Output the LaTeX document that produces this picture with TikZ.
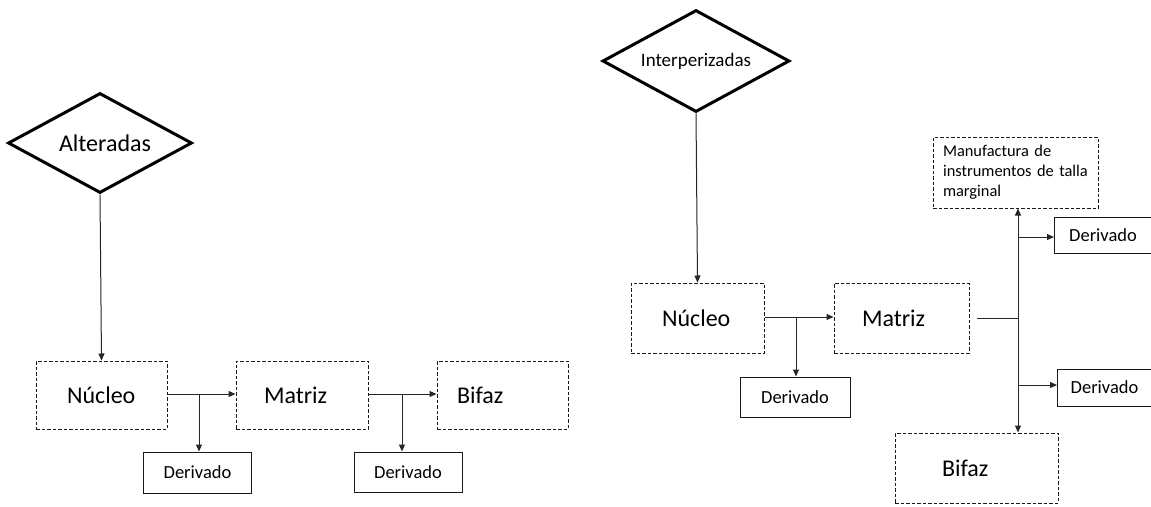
\documentclass[tikz,border=0pt]{standalone}
\usepackage{fontspec}
\setmainfont{Carlito}
\usetikzlibrary{shapes.geometric,arrows.meta}

\begin{document}
\begin{tikzpicture}[x=1pt,y=-1pt,
  decision/.style={draw=black, line width=3pt, shape=diamond, aspect=1.85, inner sep=0pt,
    font=\fontsize{24}{28}\selectfont},
  stage/.style={draw=black!90, line width=1pt, dash pattern=on 3.5pt off 2pt,
    inner ysep=0pt, align=left, font=\fontsize{24}{28}\selectfont},
  product/.style={draw=black!90, line width=1pt, inner sep=0pt,
    font=\fontsize{18.5}{22}\selectfont},
  flow/.style={draw=black!85, line width=1pt, -{Triangle[length=7pt,width=6pt]}},
  plain/.style={draw=black!85, line width=1pt}
]
\useasboundingbox (0,0) rectangle (1151,506);

% ---------------- left sequence ----------------
\node[decision, minimum width=184, minimum height=100] (alt) at (100,143) {\hspace*{10pt}Alteradas};

\node[stage, minimum height=68, text width=69, inner xsep=31] (nuc1) at (101.5,395) {Núcleo};
\node[stage, minimum height=68, text width=76, inner xsep=28] (mat1) at (302,395) {Matriz};
\node[stage, minimum height=68, text width=91, inner xsep=20] (bif1) at (502.5,395) {Bifaz};

\node[product, minimum width=108, minimum height=41] (der1) at (197.5,472.5) {Derivado};
\node[product, minimum width=108, minimum height=40] (der2) at (408,472) {Derivado};

\coordinate (b1) at (199,394);
\coordinate (b2) at (402,394);

\draw[flow] (alt.south) -- (nuc1.north);
\draw[flow] (nuc1.east |- b1) -- (mat1.west |- b1);
\draw[flow] (b1) -- (b1 |- der1.north);
\draw[flow] (mat1.east |- b2) -- (bif1.west |- b2);
\draw[flow] (b2) -- (b2 |- der2.north);

% ---------------- right sequence ----------------
\node[decision, minimum width=187, minimum height=102, font=\fontsize{19}{22}\selectfont] (int) at (696,61) {\raisebox{3pt}{Interperizadas}};

\node[stage, minimum height=70, text width=71, inner xsep=31] (nuc2) at (697.5,318) {Núcleo};
\node[stage, minimum height=70, text width=79, inner xsep=28] (mat2) at (901.5,318) {Matriz};
\node[stage, minimum height=70, text width=69, inner xsep=47] (bif2) at (976.5,468) {Bifaz};

\node[product, minimum width=110, minimum height=40] (der3) at (795,397) {Derivado};
\node[product, minimum width=97, minimum height=36, anchor=west] (der4) at (1054,235) {Derivado};
\node[product, minimum width=94, minimum height=37, anchor=west] (der5) at (1057,387.5) {Derivado};

\node[draw=black!90, line width=1pt, dash pattern=on 3.5pt off 2pt,
      minimum height=71, text width=145, inner xsep=10pt, align=left,
      font=\fontsize{16.4}{20}\selectfont] (man) at (1015.5,172.5)
  {Manufactura de\\instrumentos de talla\\marginal};

\coordinate (b3) at (796,317);
\coordinate (j) at (1018,318);
\coordinate (jt) at (1018,237);
\coordinate (jb) at (1018,385);

\draw[flow] (int.south) -- (nuc2.north);
\draw[flow] (nuc2.east |- b3) -- (mat2.west |- b3);
\draw[flow] (b3) -- (b3 |- der3.north);
\draw[plain, shorten <=7pt] (mat2.east |- j) -- (j);
\draw[flow] (j) -- (j |- man.south);
\draw[flow] (j) -- (j |- bif2.north);
\draw[flow] (jt) -- (der4.west |- jt);
\draw[flow] (jb) -- (der5.west |- jb);
\end{tikzpicture}
\end{document}
